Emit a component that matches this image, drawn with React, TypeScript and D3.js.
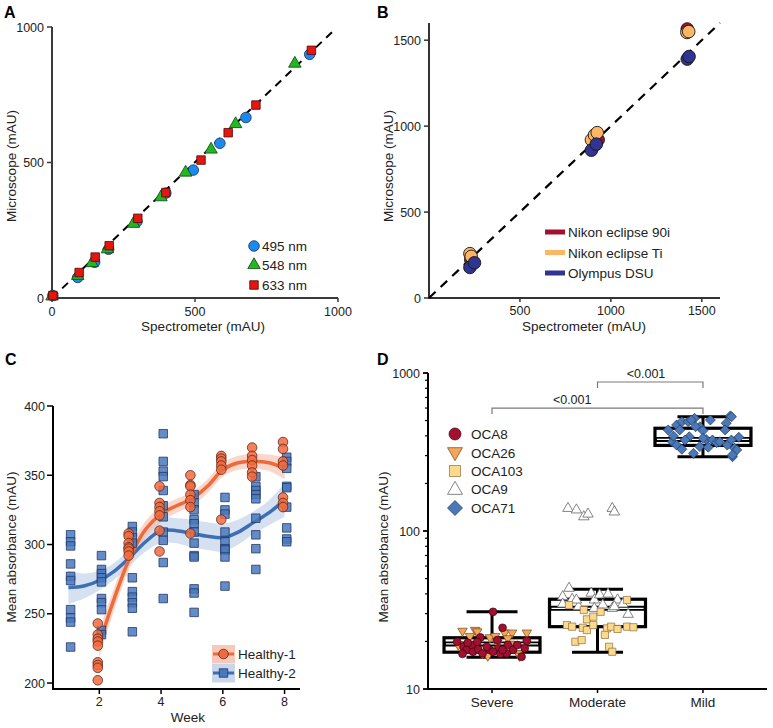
import React from 'react';
import * as d3 from 'd3';

const FONT = "'Liberation Sans', Arial, Helvetica, sans-serif";

// ---------- Panel A: microscope vs spectrometer, three wavelengths
const ticksA = [0, 500, 1000];
const nm495 = [[3, 9], [90, 76], [149, 132], [198, 180], [297, 282], [398, 387], [494, 472], [587, 571], [678, 666], [901, 899]];
const nm548 = [[0, 6], [90, 82], [140, 129], [194, 180], [285, 274], [381, 372], [467, 463], [556, 548], [642, 642], [849, 865]];
const nm633 = [[3, 9], [95, 94], [151, 151], [200, 193], [300, 294], [398, 389], [521, 509], [616, 610], [713, 712], [907, 914]];
const legendA = ['495 nm', '548 nm', '633 nm'];

// ---------- Panel B: three microscopes
const ticksBx = [500, 1000, 1500];
const ticksBy = [0, 500, 1000, 1500];
const nikon90i = [[230, 222], [930, 920], [1420, 1565]];
const nikonTi = [[225, 258], [232, 242], [893, 920], [910, 948], [925, 962], [1418, 1545], [1428, 1550]];
const olympusDSU = [[225, 178], [250, 205], [893, 860], [920, 895], [1420, 1390], [1430, 1405]];
const legendB = ['Nikon eclipse 90i', 'Nikon eclipse Ti', 'Olympus DSU'];

// ---------- Panel C: weekly absorbance
const weeksC = [1, 2, 3, 4, 5, 6, 7, 8];
const ticksCx = [2, 4, 6, 8];
const ticksCy = [200, 250, 300, 350, 400];
const healthy1 = [
  [],
  [243, 235, 232, 230, 227, 215, 213, 211, 202],
  [308, 306, 301, 298, 297, 295, 292],
  [342, 330, 327, 324, 321, 310, 295],
  [350, 343, 342, 336, 332, 327, 308],
  [364, 362, 360, 357, 354, 318],
  [370, 364, 361, 357, 352, 349],
  [374, 369, 360, 357, 334, 330, 327],
];
const healthy2 = [
  [307, 302, 299, 286, 277, 274, 253, 247, 244, 226],
  [292, 282, 279, 276, 273, 261, 258, 253, 238, 235],
  [313, 309, 305, 301, 276, 266, 262, 258, 254, 237],
  [380, 360, 353, 349, 339, 328, 320, 309, 303, 287, 261],
  [336, 330, 325, 318, 315, 309, 301, 292, 291, 268, 265, 251],
  [334, 325, 322, 309, 302, 297, 296, 291, 270],
  [349, 342, 339, 336, 333, 319, 307, 297, 282],
  [363, 360, 355, 342, 341, 327, 312, 304, 302],
];
const fitWeeks1 = [2, 2.5, 3, 3.5, 4, 4.5, 5, 5.5, 6, 6.5, 7, 7.5, 8];
const fit1 = [228, 262, 291, 311, 322, 328, 333, 342, 354, 359, 360, 359, 355];
const ci1 = [10, 8, 7, 6, 5.5, 5, 5, 5, 5, 5, 5.5, 6, 8];
const fitWeeks2 = [1, 1.5, 2, 2.5, 3, 3.5, 4, 4.5, 5, 5.5, 6, 6.5, 7, 7.5, 8];
const fit2 = [269, 270, 274, 281, 291, 302, 310, 310, 308, 306, 305, 309, 316, 323, 332];
const ci2 = [12, 9, 7, 6, 6, 7, 9, 9, 10, 10, 10, 9, 8, 9, 12];
const legendC = ['Healthy-1', 'Healthy-2'];

// ---------- Panel D: severity groups (jitter, value)
const groupsD = ['Severe', 'Moderate', 'Mild'];
const oca8 = [[0.01, 30.8], [0.10, 24.4], [-0.33, 19.9], [-0.11, 21.2], [-0.27, 18.5], [-0.24, 17.7], [-0.19, 19.0], [-0.18, 17.2], [-0.28, 16.7], [-0.13, 17.8], [-0.09, 16.8], [-0.02, 17.7], [0.05, 20.4], [0.06, 18.1], [0.08, 16.7], [0.14, 16.8], [0.15, 19.0], [0.20, 17.7], [0.24, 19.0], [0.28, 16.0], [0.33, 20.2], [0.31, 18.1], [0.01, 17.2], [-0.05, 18.5], [-0.23, 19.6], [-0.14, 19.9], [0.10, 17.7]];
const oca26 = [[-0.28, 23.3], [-0.16, 23.6], [-0.14, 23.1], [-0.21, 21.6], [-0.02, 21.2], [0.03, 21.6], [0.12, 22.7], [0.19, 22.7], [0.15, 20.9], [0.33, 22.7], [-0.32, 19.0], [-0.09, 16.8], [-0.04, 16.2], [0.25, 16.8], [0.17, 19.3], [0.05, 19.5], [0.26, 16.2]];
const oca103 = [[-0.29, 25.4], [-0.24, 24.8], [-0.14, 24.4], [-0.10, 23.6], [-0.10, 27.6], [-0.04, 25.4], [-0.04, 28.7], [-0.27, 34.0], [-0.13, 31.6], [0.03, 30.8], [0.09, 24.2], [0.13, 24.8], [0.19, 24.0], [0.28, 24.8], [0.34, 24.6], [0.28, 36.6], [0.07, 22.0], [-0.21, 19.9], [-0.15, 20.4], [0.11, 18.5], [0.14, 17.2]];
const oca9 = [[-0.27, 43.4], [-0.33, 38.4], [-0.24, 37.0], [-0.33, 34.5], [-0.06, 40.4], [-0.03, 36.6], [0.02, 39.4], [0.10, 39.9], [-0.18, 33.2], [-0.03, 32.4], [0.05, 34.0], [0.14, 32.4], [0.19, 36.6], [0.24, 34.5], [0.29, 29.7], [-0.20, 36.6], [0.16, 33.2], [-0.28, 139], [-0.20, 136], [-0.13, 123], [-0.09, 128], [0.14, 139], [0.16, 132]];
const oca71 = [[-0.25, 469], [-0.20, 492], [-0.14, 492], [-0.08, 517], [0.07, 504], [0.26, 535], [0.22, 481], [-0.33, 436], [-0.22, 436], [-0.03, 457], [0.00, 432], [0.21, 436], [-0.29, 367], [-0.25, 350], [-0.20, 329], [-0.13, 395], [-0.09, 310], [-0.03, 342], [0.03, 380], [0.05, 339], [0.09, 377], [0.13, 362], [0.16, 367], [0.23, 350], [0.27, 377], [0.30, 334], [0.28, 295], [0.34, 392], [0.32, 326], [-0.17, 377], [0.00, 386], [-0.07, 457], [-0.28, 399], [0.27, 528], [0.28, 303], [-0.11, 504]];
// lo whisker, q1, median, q3, hi whisker
const boxesD = [[15.9, 17.1, 19.3, 21.1, 30.8], [17.1, 24.8, 32.4, 37.0, 42.8], [295, 348, 380, 447, 528]];
const legendD = ['OCA8', 'OCA26', 'OCA103', 'OCA9', 'OCA71'];
const ticksDy = [10, 100, 1000];

// shape paths
const triUp = (w: number) => { const h = w * 0.866; return `M0,${-h * 2 / 3}L${w / 2},${h / 3}L${-w / 2},${h / 3}Z`; };
const triDown = (w: number) => { const h = w * 0.866; return `M0,${h * 2 / 3}L${w / 2},${-h / 3}L${-w / 2},${-h / 3}Z`; };
const square = (s: number) => `M${-s / 2},${-s / 2}h${s}v${s}h${-s}Z`;
const diamond = (r: number) => `M0,${-r}L${r},0L0,${r}L${-r},0Z`;

const tickText = { fontFamily: FONT, fontSize: 12.5, fill: '#222' };
const titleText = { fontFamily: FONT, fontSize: 13.5, fill: '#222' };
const panelText = { fontFamily: FONT, fontSize: 16, fontWeight: 900, fill: '#000' };

function PanelA() {
  const x = d3.scaleLinear([0, 1000], [52, 338]);
  const y = d3.scaleLinear([0, 1000], [298, 27]);
  const ax = '#3a3a3a';
  return (
    <g>
      <text x={4} y={18} {...panelText}>A</text>
      <line x1={x(0)} x2={x(0)} y1={y(1000)} y2={y(0) + 1} stroke={ax} strokeWidth={2} />
      <line x1={x(0) - 1} x2={x(1000)} y1={y(0)} y2={y(0)} stroke={ax} strokeWidth={2} />
      {ticksA.map(t => (
        <g key={'y' + t}>
          <line x1={x(0) - 5} x2={x(0)} y1={y(t)} y2={y(t)} stroke={ax} strokeWidth={1.5} />
          <text x={x(0) - 8} y={y(t) + 4.5} textAnchor="end" {...tickText}>{t}</text>
        </g>
      ))}
      {ticksA.map(t => (
        <g key={'x' + t}>
          <line x1={x(t)} x2={x(t)} y1={y(0)} y2={y(0) + 4} stroke={ax} strokeWidth={1.5} />
          <text x={x(t)} y={316} textAnchor="middle" {...tickText}>{t}</text>
        </g>
      ))}
      <text x={203} y={331} textAnchor="middle" {...titleText}>Spectrometer (mAU)</text>
      <text transform={`translate(16,${166}) rotate(-90)`} textAnchor="middle" {...titleText}>Microscope (mAU)</text>
      <line x1={x(0)} y1={y(0)} x2={x(980)} y2={y(982)} stroke="#000" strokeWidth={2} strokeDasharray="8,6" />
      {nm495.map((d, i) => <circle key={'c' + i} cx={x(d[0])} cy={y(d[1])} r={5.3} fill="#1b8af0" stroke="#1d3050" strokeWidth={0.8} />)}
      {nm548.map((d, i) => <path key={'t' + i} transform={`translate(${x(d[0])},${y(d[1])})`} d={triUp(12.5)} fill="#22b822" stroke="#133f13" strokeWidth={0.8} />)}
      {nm633.map((d, i) => <path key={'s' + i} transform={`translate(${x(d[0])},${y(d[1])})`} d={square(8.5)} fill="#e5150f" stroke="#4a0a08" strokeWidth={0.8} />)}
      <g transform="translate(254,246)"><circle r={5.3} fill="#1b8af0" stroke="#1d3050" strokeWidth={0.8} /></g>
      <g transform="translate(254,265)"><path d={triUp(12.5)} fill="#22b822" stroke="#133f13" strokeWidth={0.8} /></g>
      <g transform="translate(254,285)"><path d={square(8.5)} fill="#e5150f" stroke="#4a0a08" strokeWidth={0.8} /></g>
      {legendA.map((l, i) => <text key={l} x={262} y={[250.5, 270, 289.5][i]} {...titleText}>{l}</text>)}
    </g>
  );
}

function PanelB() {
  const x = d3.scaleLinear([0, 1600], [429, 720]);
  const y = d3.scaleLinear([0, 1600], [298, 23]);
  const ax = '#333';
  const cols = ['#a3102f', '#fdb566', '#2f3590'];
  const sets = [nikon90i, nikonTi, olympusDSU];
  return (
    <g>
      <text x={377} y={18} {...panelText}>B</text>
      <line x1={x(0)} x2={x(0)} y1={y(1600)} y2={y(0) + 1} stroke={ax} strokeWidth={2} />
      <line x1={x(0) - 1} x2={x(1600)} y1={y(0)} y2={y(0)} stroke={ax} strokeWidth={2} />
      {ticksBy.map(t => (
        <g key={'y' + t}>
          <line x1={x(0) - 5} x2={x(0)} y1={y(t)} y2={y(t)} stroke={ax} strokeWidth={1.5} />
          <text x={x(0) - 8} y={y(t) + 4.5} textAnchor="end" {...tickText}>{t}</text>
        </g>
      ))}
      {ticksBx.map(t => (
        <g key={'x' + t}>
          <line x1={x(t)} x2={x(t)} y1={y(0)} y2={y(0) + 4} stroke={ax} strokeWidth={1.5} />
          <text x={x(t)} y={315} textAnchor="middle" {...tickText}>{t}</text>
        </g>
      ))}
      <text x={584} y={331} textAnchor="middle" {...titleText}>Spectrometer (mAU)</text>
      <text transform={`translate(393,${166}) rotate(-90)`} textAnchor="middle" {...titleText}>Microscope (mAU)</text>
      <line x1={x(0)} y1={y(0)} x2={x(1600)} y2={y(1600)} stroke="#000" strokeWidth={2.2} strokeDasharray="9,7" />
      {sets.map((s, k) => s.map((d, i) => (
        <circle key={k + '-' + i} cx={x(d[0])} cy={y(d[1])} r={6.3} fill={cols[k]} stroke="#151515" strokeWidth={0.9} />
      )))}
      {legendB.map((l, i) => (
        <g key={l}>
          <line x1={545} x2={565} y1={232 + i * 20.5} y2={232 + i * 20.5} stroke={cols[i]} strokeWidth={5} />
          <text x={568} y={237 + i * 20.5} {...titleText}>{l}</text>
        </g>
      ))}
    </g>
  );
}

function PanelC() {
  const x = d3.scaleLinear([0.5, 8.5], [53, 300]);
  const y = d3.scaleLinear([195.7, 400], [689, 406]);
  const line = d3.line<number>().curve(d3.curveCatmullRom);
  const band = d3.area<number>().curve(d3.curveCatmullRom);
  const l1 = line(fitWeeks1.map((w, i) => [x(w), y(fit1[i])] as any) as any);
  const l2 = line(fitWeeks2.map((w, i) => [x(w), y(fit2[i])] as any) as any);
  const b1 = d3.area<number>().curve(d3.curveCatmullRom)
    .x(i => x(fitWeeks1[i])).y0(i => y(fit1[i] - ci1[i])).y1(i => y(fit1[i] + ci1[i]))(d3.range(fitWeeks1.length));
  const b2 = d3.area<number>().curve(d3.curveCatmullRom)
    .x(i => x(fitWeeks2[i])).y0(i => y(fit2[i] - ci2[i])).y1(i => y(fit2[i] + ci2[i]))(d3.range(fitWeeks2.length));
  void band;
  const orange = '#f26b40';
  const blue = '#4a78bd';
  return (
    <g>
      <text x={5} y={365} {...panelText}>C</text>
      <path d={b2 || ''} fill="#b9cce8" opacity={0.6} />
      <path d={b1 || ''} fill="#f8bba6" opacity={0.6} />
      <path d={l2 || ''} fill="none" stroke="#3d6fb6" strokeWidth={3.5} />
      <path d={l1 || ''} fill="none" stroke="#ee6a3b" strokeWidth={3.5} />
      {weeksC.map((w, wi) => healthy2[wi].map((v, i) => (
        <path key={'s' + w + '-' + i} transform={`translate(${x(w + 0.07)},${y(v)})`} d={square(8.5)} fill={blue} fillOpacity={0.85} stroke="#1f3a66" strokeWidth={0.8} />
      )))}
      {weeksC.map((w, wi) => healthy1[wi].map((v, i) => (
        <circle key={'c' + w + '-' + i} cx={x(w - 0.05)} cy={y(v)} r={4.8} fill={orange} fillOpacity={0.85} stroke="#5a2a1a" strokeWidth={0.8} />
      )))}
      <line x1={53} x2={53} y1={406} y2={690} stroke="#000" strokeWidth={2} />
      <line x1={52} x2={300} y1={689} y2={689} stroke="#000" strokeWidth={2} />
      {ticksCy.map(t => (
        <g key={'y' + t}>
          <line x1={47} x2={53} y1={y(t)} y2={y(t)} stroke="#000" strokeWidth={1.5} />
          <text x={45} y={y(t) + 4.5} textAnchor="end" {...tickText}>{t}</text>
        </g>
      ))}
      {ticksCx.map(t => (
        <g key={'x' + t}>
          <line x1={x(t)} x2={x(t)} y1={689} y2={694} stroke="#000" strokeWidth={1.5} />
          <text x={x(t)} y={706} textAnchor="middle" {...tickText}>{t}</text>
        </g>
      ))}
      <text x={188} y={722} textAnchor="middle" {...titleText}>Week</text>
      <text transform={`translate(16,547) rotate(-90)`} textAnchor="middle" {...titleText}>Mean absorbance (mAU)</text>
      <rect x={212} y={645} width={23} height={18.5} fill="#f8c9b8" />
      <rect x={212} y={664} width={23} height={18.5} fill="#c8d7ec" />
      <line x1={213} x2={234} y1={654} y2={654} stroke="#ee6a3b" strokeWidth={3} />
      <line x1={213} x2={234} y1={673} y2={673} stroke="#3d6fb6" strokeWidth={3} />
      <circle cx={223.5} cy={654} r={4.8} fill={orange} stroke="#5a2a1a" strokeWidth={0.8} />
      <path transform="translate(223.5,673)" d={square(8.5)} fill={blue} stroke="#1f3a66" strokeWidth={0.8} />
      {legendC.map((l, i) => <text key={l} x={238} y={659 + i * 19} {...titleText}>{l}</text>)}
    </g>
  );
}

function PanelD() {
  const x = d3.scalePoint(groupsD, [428, 767]).padding(0.607);
  const step = x.step();
  const y = d3.scaleLog([10, 1000], [689, 373]);
  const minor = [20, 30, 40, 50, 60, 70, 80, 90, 200, 300, 400, 500, 600, 700, 800, 900];
  const px = (g: string, j: number) => (x(g) as number) + j * step;
  const brackets = [
    { a: 'Moderate', b: 'Mild', top: 877, tip: 803, label: '<0.001', at: 0.46 },
    { a: 'Severe', b: 'Mild', top: 600, tip: 550, label: '<0.001', at: 0.38 },
  ];
  return (
    <g>
      <text x={377} y={365} {...panelText}>D</text>
      {boxesD.map((b, i) => {
        const cx = x(groupsD[i]) as number;
        return (
          <g key={groupsD[i]} stroke="#000" fill="none">
            <line x1={cx} x2={cx} y1={y(b[0])} y2={y(b[1])} strokeWidth={3} />
            <line x1={cx} x2={cx} y1={y(b[3])} y2={y(b[4])} strokeWidth={3} />
            <line x1={cx - 25.5} x2={cx + 25.5} y1={y(b[0])} y2={y(b[0])} strokeWidth={3} />
            <line x1={cx - 25.5} x2={cx + 25.5} y1={y(b[4])} y2={y(b[4])} strokeWidth={3} />
            <rect x={cx - 48} y={y(b[3])} width={96} height={y(b[1]) - y(b[3])} strokeWidth={3.2} />
            <line x1={cx - 48} x2={cx + 48} y1={y(b[2])} y2={y(b[2])} strokeWidth={5} />
            <line x1={cx - 46} x2={cx + 46} y1={y(b[2])} y2={y(b[2])} strokeWidth={1.3} stroke="#fff" />
          </g>
        );
      })}
      {oca26.map((d, i) => <path key={'a' + i} transform={`translate(${px('Severe', d[0])},${y(d[1])})`} d={triDown(9.5)} fill="#f5a659" stroke="#6b4a20" strokeWidth={0.7} />)}
      {oca8.map((d, i) => <circle key={'b' + i} cx={px('Severe', d[0])} cy={y(d[1])} r={3.9} fill="#a3102f" stroke="#3a0510" strokeWidth={0.7} />)}
      {oca9.map((d, i) => <path key={'c' + i} transform={`translate(${px('Moderate', d[0])},${y(d[1])})`} d={triUp(10.5)} fill="#fff" stroke="#666" strokeWidth={0.8} />)}
      {oca103.map((d, i) => <path key={'d' + i} transform={`translate(${px('Moderate', d[0])},${y(d[1])})`} d={square(7.2)} fill="#fcd98c" stroke="#8a7040" strokeWidth={0.7} />)}
      {oca71.map((d, i) => <path key={'e' + i} transform={`translate(${px('Mild', d[0])},${y(d[1])})`} d={diamond(5)} fill="#4a78b8" stroke="#1f3558" strokeWidth={0.7} />)}
      {brackets.map((b, i) => {
        const xa = x(b.a) as number, xb = x(b.b) as number;
        return (
          <g key={i}>
            <path d={`M${xa},${y(b.tip)}V${y(b.top)}H${xb}V${y(b.tip)}`} fill="none" stroke="#7a7a7a" strokeWidth={1.2} />
            <text x={xa + (xb - xa) * b.at} y={y(b.top) - 4} textAnchor="middle" {...tickText}>{b.label}</text>
          </g>
        );
      })}
      <line x1={428} x2={428} y1={373} y2={690} stroke="#000" strokeWidth={2} />
      <line x1={427} x2={767} y1={689} y2={689} stroke="#000" strokeWidth={2} />
      {minor.map(t => <line key={'m' + t} x1={425} x2={428} y1={y(t)} y2={y(t)} stroke="#000" strokeWidth={1.2} />)}
      {ticksDy.map(t => (
        <g key={'y' + t}>
          <line x1={423} x2={428} y1={y(t)} y2={y(t)} stroke="#000" strokeWidth={1.8} />
          <text x={420} y={y(t) + 4.5} textAnchor="end" {...tickText}>{t}</text>
        </g>
      ))}
      {groupsD.map(g => (
        <g key={g}>
          <line x1={x(g) as number} x2={x(g) as number} y1={689} y2={693} stroke="#000" strokeWidth={1.5} />
          <text x={x(g) as number} y={707} textAnchor="middle" {...titleText}>{g}</text>
        </g>
      ))}
      <text transform={`translate(388,547) rotate(-90)`} textAnchor="middle" {...titleText}>Mean absorbance (mAU)</text>
      <circle cx={455} cy={434} r={6} fill="#a3102f" stroke="#3a0510" strokeWidth={0.7} />
      <path transform="translate(455,452)" d={triDown(15)} fill="#f5a659" stroke="#6b4a20" strokeWidth={0.7} />
      <path transform="translate(455,471)" d={square(11)} fill="#fcd98c" stroke="#8a7040" strokeWidth={0.7} />
      <path transform="translate(455,490)" d={triUp(15)} fill="#fff" stroke="#666" strokeWidth={0.8} />
      <path transform="translate(455,508)" d={diamond(7.5)} fill="#4a78b8" stroke="#1f3558" strokeWidth={0.7} />
      {legendD.map((l, i) => <text key={l} x={471} y={[438.5, 458, 476, 494, 513][i]} {...titleText}>{l}</text>)}
    </g>
  );
}

export default function App() {
  return (
    <svg width={773} height={728} style={{ position: 'absolute', left: 0, top: 0, background: '#fff' }}>
      <rect width={773} height={728} fill="#fff" />
      <PanelA />
      <PanelB />
      <PanelC />
      <PanelD />
    </svg>
  );
}
